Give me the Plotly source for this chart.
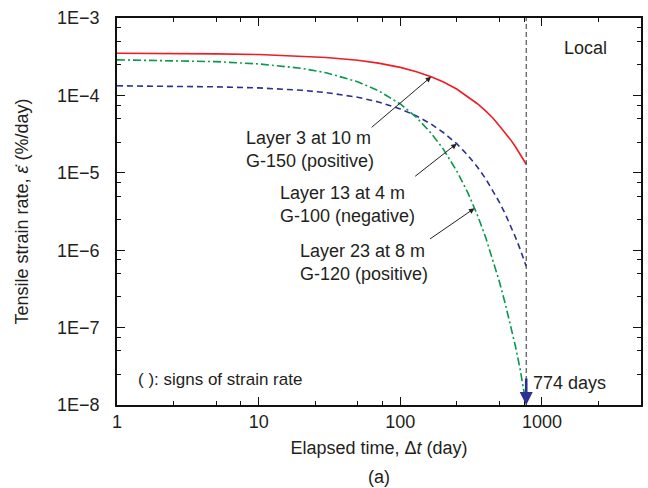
import numpy as np
import plotly.graph_objects as go

# ---- data ----
days = [1, 2, 5, 10, 20, 30, 50, 70, 100, 130, 165, 200, 250, 300, 350,
        400, 450, 500, 550, 600, 650, 700, 774]
layer3 = [3.50e-4, 3.49e-4, 3.44e-4, 3.37e-4, 3.23e-4, 3.09e-4, 2.84e-4, 2.61e-4,
          2.30e-4, 2.02e-4, 1.74e-4, 1.50e-4, 1.21e-4, 9.65e-5, 7.8e-5,
          6.3e-5, 5.1e-5, 4.05e-5, 3.3e-5, 2.68e-5, 2.17e-5, 1.75e-5, 1.29e-5]
layer13 = [1.33e-4, 1.32e-4, 1.29e-4, 1.25e-4, 1.165e-4, 1.087e-4, 9.46e-5, 8.24e-5,
           6.69e-5, 5.43e-5, 4.26e-5, 3.34e-5, 2.38e-5, 1.68e-5, 1.19e-5,
           8.4e-6, 5.9e-6, 4.18e-6, 2.95e-6, 2.08e-6, 1.47e-6, 1.04e-6, 6.2e-7]
layer23 = [2.88e-4, 2.84e-4, 2.73e-4, 2.55e-4, 2.24e-4, 1.96e-4, 1.50e-4, 1.15e-4,
           7.75e-5, 5.2e-5, 3.25e-5, 2.05e-5, 1.06e-5, 5.5e-6, 2.85e-6,
           1.47e-6, 7.6e-7, 3.95e-7, 2.05e-7, 1.08e-7, 5.7e-8, 2.95e-8, 1.0e-8]

series_names = ["Layer 3 at 10 m<br>G-150 (positive)",
                "Layer 13 at 4 m<br>G-100 (negative)",
                "Layer 23 at 8 m<br>G-120 (positive)"]
pointer_days = [165, 250, 334]          # where each label arrow touches its curve
cutoff_day = 774

x_ticks = [1, 10, 100, 1000]
x_ticktext = ["1", "10", "100", "1000"]
x_minor = [2.5, 5, 7.5, 25, 50, 75, 250, 500, 750, 2500]
y_ticks = [1e-8, 1e-7, 1e-6, 1e-5, 1e-4, 1e-3]
y_ticktext = ["1E\u2212" + str(k) for k in [8, 7, 6, 5, 4, 3]]
y_minor = [m * 10.0**e for e in range(-8, -3) for m in (2.5, 5, 7.5)]

FONT = "Liberation Sans, Arial, sans-serif"
TXT = "#231f20"
RED, BLUE, GREEN = "#ee1d25", "#2b3192", "#079a4a"
FS = 18

fig = go.Figure()
fig.add_trace(go.Scatter(x=days, y=layer3, mode="lines",
                         line=dict(color=RED, width=1.6), showlegend=False))
fig.add_trace(go.Scatter(x=days, y=layer13, mode="lines",
                         line=dict(color=BLUE, width=1.6, dash="6px,4px"), showlegend=False))
fig.add_trace(go.Scatter(x=days, y=layer23, mode="lines",
                         line=dict(color=GREEN, width=1.6, dash="8px,3px,2px,3px"), showlegend=False))

# vertical dashed line at cutoff
fig.add_shape(type="line", xref="x", yref="paper", x0=cutoff_day, x1=cutoff_day,
              y0=0, y1=1, line=dict(color="#444444", width=1.1, dash="5px,3px"))

def interp_log(xq, xs, ys):
    return float(np.interp(np.log10(xq), np.log10(xs), np.log10(ys)))

arrow_offsets = [(-60, 51), (-42, 33), (-45, 31)]
label_pos = [(0.243, 0.660), (0.308, 0.518), (0.346, 0.367)]
curves = [layer3, layer13, layer23]
for name, pdays, curve, (ax, ay), (lx, ly) in zip(series_names, pointer_days, curves,
                                                  arrow_offsets, label_pos):
    tip_y = interp_log(pdays, days, curve)
    fig.add_annotation(x=np.log10(pdays), y=tip_y, xref="x", yref="y",
                       ax=ax, ay=ay, axref="pixel", ayref="pixel",
                       showarrow=True, arrowhead=2, arrowsize=1.1, arrowwidth=1,
                       arrowcolor="#222222", text="", font=dict(size=1), borderpad=0)
    fig.add_annotation(x=lx, y=ly, xref="paper", yref="paper",
                       text=name, showarrow=False, xanchor="left", yanchor="middle",
                       align="left", font=dict(family=FONT, size=FS, color=TXT))

# blue arrow marking 774 days
fig.add_annotation(x=np.log10(cutoff_day), y=np.log10(y_ticks[0]), xref="x", yref="y",
                   ax=0, ay=-27, showarrow=True, arrowhead=2, arrowsize=1.0,
                   arrowwidth=2.6, arrowcolor=BLUE, text="", font=dict(size=1), borderpad=0)
fig.add_annotation(x=np.log10(cutoff_day), y=np.log10(y_ticks[0]), xref="x", yref="y",
                   text=f"{cutoff_day} days", showarrow=False, xanchor="left",
                   yanchor="middle", xshift=5, yshift=22,
                   font=dict(family=FONT, size=FS, color=TXT))

fig.add_annotation(x=0.895, y=0.922, xref="paper", yref="paper", text="Local",
                   showarrow=False, xanchor="center", yanchor="middle",
                   font=dict(family=FONT, size=FS, color=TXT))
fig.add_annotation(x=0.036, y=0.065, xref="paper", yref="paper",
                   text="( ): signs of strain rate", showarrow=False,
                   xanchor="left", yanchor="middle",
                   font=dict(family=FONT, size=17, color=TXT))
fig.add_annotation(x=0.5, y=-0.185, xref="paper", yref="paper", text="(a)",
                   showarrow=False, xanchor="center", yanchor="middle",
                   font=dict(family=FONT, size=FS, color=TXT))

axis_common = dict(showline=True, linecolor="#111111", linewidth=1.5, mirror="allticks",
                   ticks="inside", ticklen=8, tickwidth=1.2, tickcolor="#111111",
                   showgrid=False, zeroline=False,
                   tickfont=dict(family=FONT, size=FS, color=TXT))

fig.update_xaxes(type="log", range=[0, np.log10(5000)], tickmode="array",
                 tickvals=x_ticks, ticktext=x_ticktext,
                 minor=dict(tickmode="array", tickvals=x_minor, ticks="inside",
                            ticklen=4, tickwidth=1, tickcolor="#111111", showgrid=False),
                 title=dict(text="Elapsed time, \u0394<i>t</i> (day)", standoff=10,
                            font=dict(family=FONT, size=FS, color=TXT)),
                 **axis_common)
fig.update_yaxes(type="log", range=[-8, -3], tickmode="array",
                 tickvals=y_ticks, ticktext=y_ticktext, ticklabelstandoff=12,
                 minor=dict(tickmode="array", tickvals=y_minor, ticks="inside",
                            ticklen=4, tickwidth=1, tickcolor="#111111", showgrid=False),
                 title=dict(text="Tensile strain rate, <i>\u03b5\u0307</i> (%/day)", standoff=24,
                            font=dict(family=FONT, size=FS, color=TXT)),
                 **axis_common)

fig.update_layout(width=648, height=488, margin=dict(l=117, r=5, t=18, b=83),
                  paper_bgcolor="white", plot_bgcolor="white",
                  font=dict(family=FONT, color=TXT))

fig.write_html("out.html")
